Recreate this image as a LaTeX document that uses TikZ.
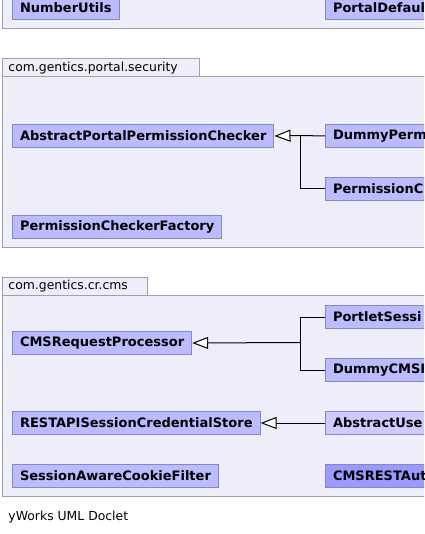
\documentclass[tikz,border=0pt]{standalone}
\usepackage{fontspec}
\setmainfont{DejaVu Sans}
\usetikzlibrary{arrows.meta, positioning}

\definecolor{pkgfill}{HTML}{EEEEFA}
\definecolor{pkgline}{HTML}{A0A0AC}
\definecolor{clsfill}{HTML}{BBBBFF}
\definecolor{clsline}{HTML}{8888BB}
\definecolor{clslight}{HTML}{CCCCFF}
\definecolor{clsdark}{HTML}{9999FF}

\begin{document}
\begin{tikzpicture}[x=1pt, y=-1pt,
                    cls/.style={rectangle, draw=clsline, fill=clsfill, anchor=north west,
                                minimum height=23pt, inner xsep=7.5pt, inner ysep=0pt,
                                font=\bfseries\fontsize{13}{15}\selectfont},
                    clipped/.style={cls, text width=140pt, align=left},
                    pkg/.style={draw=pkgline, fill=pkgfill},
                    pkgname/.style={anchor=west, inner sep=0pt, font=\fontsize{12.4}{14}\selectfont},
                    inherit/.style={-{Triangle[open, fill=white, length=16pt, width=12pt]}},
                    line width=1pt]

\useasboundingbox (0,0) rectangle (424,534);
\clip (0,0) rectangle (424,534);

% Packages
\draw[pkg] (2,-20) rectangle (440,29);
\draw[pkg] (2,59) rectangle (199,77);
\draw[pkg] (2,77) rectangle (440,247);
\node (secname) [pkgname] at (8,68) {com.gentics.portal.security};
\draw[pkg] (2,277) rectangle (147,295);
\draw[pkg] (2,295) rectangle (440,496);
\node (cmsname) [pkgname] at (8,286) {com.gentics.cr.cms};

% Classes
\node (numutil) [cls, anchor=south west] at (12,20) {NumberUtils};
\node (portaldef) [clipped, anchor=south west] at (325,20) {PortalDefaul};

\node (appc) [cls] at (12,124) {AbstractPortalPermissionChecker};
\node (dperm) [clipped] at (325,124) {DummyPerm};
\node (pchk) [clipped] at (325,177) {PermissionC};
\node (pcfac) [cls] at (12,215) {PermissionCheckerFactory};

\node (crp) [cls] at (12,331) {CMSRequestProcessor};
\node (psess) [clipped] at (325,305) {PortletSessi};
\node (dcms) [clipped] at (325,358) {DummyCMSI};
\node (rapi) [cls] at (12,411) {RESTAPISessionCredentialStore};
\node (auser) [clipped, fill=clslight] at (325,411) {AbstractUse};
\node (safilter) [cls] at (12,464) {SessionAwareCookieFilter};
\node (cmsrest) [clipped, fill=clsdark] at (325,464) {CMSRESTAut};

\node (doclet) [pkgname] at (8,517) {yWorks UML Doclet};

% Edges
\coordinate (jsec) at (300,135.5);
\draw (dperm.west) -- (jsec);
\draw (pchk.west) -| (jsec);
\draw[inherit] (jsec) -- (appc.east);

\coordinate (jcms) at (300,342.5);
\draw (psess.west) -| (jcms);
\draw (dcms.west) -| (jcms);
\draw[inherit] (jcms) -- (crp.east);

\draw[inherit] (auser.west) -- (rapi.east);

\end{tikzpicture}
\end{document}
